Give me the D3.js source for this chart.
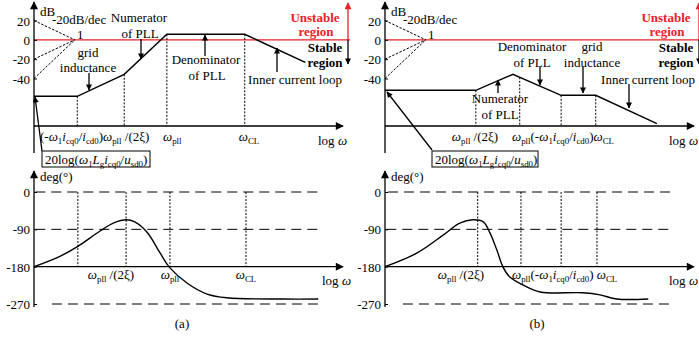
<!DOCTYPE html>
<html>
<head>
<meta charset="utf-8">
<script src="https://cdn.jsdelivr.net/npm/d3@7"></script>
<style>
body{margin:0;background:#fff}
svg{display:block}
text{font-family:"Liberation Serif","DejaVu Serif",serif;fill:#000}
</style>
</head>
<body>
<script>
// ---- data (x in decades of log w, magnitude in dB, phase in degrees) ----
var magTicks = [20, 0, -20, -40];
var phaseTicks = [0, -90, -180, -270];
var slopeStarts = [20, -20, -40];          // guide lines, all meeting at 0 dB
var slopeMeet = 0.66;

var magA = [[0,-58.4],[0.70,-58.4],[1.46,-35.7],[2.15,5.7],[3.41,5.7],[4.39,-23.3]];
var magB = [[0,-52.2],[1.47,-52.2],[2.07,-35.7],[2.85,-57.4],[3.41,-57.4],[4.40,-86.8]];
var breaksMagA = [0.70, 1.46, 2.15, 3.41];
var breaksMagB = [1.47, 2.18, 2.85, 3.41];

var phaseA = [[0,-180],[0.42,-155],[0.71,-131],[1.07,-94],[1.30,-74],[1.49,-67],[1.63,-72],
              [1.83,-97],[2.04,-147],[2.20,-183],[2.48,-220],[2.80,-246],[3.12,-255],[4.03,-258],[4.60,-258]];
var phaseB = [[0,-180],[0.52,-147],[0.94,-104],[1.21,-75],[1.42,-67],[1.59,-72],[1.70,-99],
              [1.81,-140],[1.91,-181],[2.02,-205],[2.23,-224],[2.51,-241],[3.20,-243],[3.48,-248],
              [3.75,-258],[4.26,-258]];
var breaksPhA = [0.71, 1.49, 2.20, 3.43];
var breaksPhB = [1.50, 2.20, 2.85, 3.43];

// rich text pieces: [text, style] ; i = italic, s = subscript
var W = [["\u03c9","i"]];
var lblWpll2xi = W.concat([["pll","s"],[" /(2\u03be)",""]]);
var lblWpll = W.concat([["pll","s"]]);
var lblWcl = W.concat([["CL","s"]]);
var lblRatio = [["(-",""],["\u03c9","i"],["1","s"],["i","i"],["cq0","s"],["/",""],["i","i"],["cd0","s"],[")",""]];
var lblLog = [["log ",""],["\u03c9","i"]];
var lblBox = [["20log(",""],["\u03c9","i"],["1","s"],["L","i"],["g","s"],["i","i"],["cq0","s"],["/",""],["u","i"],["sd0","s"],[")",""]];

var FONT = "Liberation Serif, DejaVu Serif, serif";
var width = 699, height = 339;
var svg = d3.select("body").append("svg").attr("width", width).attr("height", height)
            .attr("font-family", FONT);

var defs = svg.append("defs");
function marker(id, color, w, h) {
  defs.append("marker").attr("id", id).attr("viewBox", "0 0 10 10")
      .attr("refX", 9).attr("refY", 5).attr("markerUnits", "userSpaceOnUse")
      .attr("markerWidth", w).attr("markerHeight", h).attr("orient", "auto")
      .append("path").attr("d", "M0,0L10,5L0,10z").attr("fill", color);
}
marker("ax", "#000", 11, 8);
marker("ar", "#000", 10, 6);
marker("arRed", "#e8202a", 10, 7);

// scales shared by both panels (each panel is shifted by its own group)
var x = d3.scaleLinear().domain([0, 5]).range([0, 309]);
var yMag = d3.scaleLinear().domain([20, -40]).range([20.5, 78.5]);
var yPh = d3.scaleLinear().domain([0, -270]).range([192, 304]);
var magAxisY = 126;

function rich(g, parts, px, py, anchor, size) {
  size = size || 13;
  var t = g.append("text").attr("x", px).attr("y", py).attr("font-size", size)
           .attr("font-family", FONT).attr("text-anchor", anchor || "start");
  var shift = 0;
  parts.forEach(function(p) {
    var sub = p[1].indexOf("s") >= 0;
    var target = sub ? 3 : 0;
    var s = t.append("tspan").text(p[0]);
    if (target - shift !== 0) s.attr("dy", target - shift);
    shift = target;
    if (sub) s.attr("font-size", size * 0.68);
    if (p[1].indexOf("i") >= 0) s.attr("font-style", "italic");
  });
  return t;
}
function label(g, str, px, py, anchor, size) {
  return rich(g, [[str, ""]], px, py, anchor, size);
}
function arrow(g, x1, y1, x2, y2, id, color) {
  g.append("line").attr("x1", x1).attr("y1", y1).attr("x2", x2).attr("y2", y2)
   .attr("stroke", color || "#000").attr("stroke-width", 1.3)
   .attr("marker-end", "url(#" + (id || "ar") + ")");
}
function valAt(pts, v) {
  for (var i = 1; i < pts.length; i++) {
    if (v <= pts[i][0]) {
      var t = (v - pts[i-1][0]) / (pts[i][0] - pts[i-1][0]);
      return pts[i-1][1] + t * (pts[i][1] - pts[i-1][1]);
    }
  }
  return pts[pts.length-1][1];
}

var magLine = d3.line().x(function(d){ return x(d[0]); }).y(function(d){ return yMag(d[1]); });
var phLine = d3.line().x(function(d){ return x(d[0]); }).y(function(d){ return yPh(d[1]); })
               .curve(d3.curveCatmullRom);

function boldText(g, str, px, py, color) {
  g.append("text").attr("x", px).attr("y", py).attr("text-anchor", "middle")
   .attr("font-family", FONT).attr("font-size", 13).attr("font-weight", "bold")
   .style("fill", color).text(str);
}

function panel(ox, mag, breaksMag, phase, breaksPh, phDash, logPhX) {
  var g = svg.append("g").attr("transform", "translate(" + ox + ",0)");

  // ---------- magnitude ----------
  g.append("line").attr("x1", 0).attr("x2", 316).attr("y1", yMag(0)).attr("y2", yMag(0))
   .attr("stroke", "#e8202a").attr("stroke-width", 1.3);

  g.selectAll(".slope").data(slopeStarts).enter().append("line")
   .attr("x1", x(0)).attr("y1", function(d){ return yMag(d); })
   .attr("x2", x(slopeMeet)).attr("y2", yMag(0))
   .attr("stroke", "#000").attr("stroke-width", 1).attr("stroke-dasharray", "2.5,1.5");

  g.selectAll(".mbrk").data(breaksMag).enter().append("line")
   .attr("x1", function(d){ return x(d); }).attr("x2", function(d){ return x(d); })
   .attr("y1", function(d){ return yMag(valAt(mag, d)); }).attr("y2", magAxisY)
   .attr("stroke", "#000").attr("stroke-width", 1).attr("stroke-dasharray", "2,1.5");

  g.append("path").attr("d", magLine(mag)).attr("fill", "none")
   .attr("stroke", "#000").attr("stroke-width", 1.4);

  var ya = g.append("g").call(d3.axisLeft(yMag).tickValues(magTicks).tickSize(-3).tickPadding(4)
              .tickFormat(function(d){ return String(d); }));
  ya.attr("font-family", FONT);
  ya.select(".domain").remove();
  ya.selectAll("text").attr("font-size", 13).attr("font-family", FONT).attr("dy", "0.35em");
  ya.selectAll("line").attr("stroke-width", 1);

  arrow(g, 0, 153, 0, 2, "ax");
  arrow(g, 0, magAxisY, x(5), magAxisY, "ax");
  label(g, "dB", 6, 16);
  label(g, "-20dB/dec", 18, 24);
  label(g, "1", 43, 39);
  rich(g, lblLog, 284, 145);

  // stability arrows
  arrow(g, 314, yMag(0), 314, 3, "arRed", "#e8202a");
  arrow(g, 314, yMag(0), 314, 64, "ar");
  boldText(g, "Unstable", 281, 21.5, "#e8202a");
  boldText(g, "region", 282, 36, "#e8202a");
  boldText(g, "Stable", 291, 52, "#000");
  boldText(g, "region", 291, 66.5, "#000");

  // ---------- phase ----------
  g.selectAll(".pdash").data(phDash).enter().append("line")
   .attr("x1", function(d){ return x(d[1]); }).attr("x2", x(4.62))
   .attr("y1", function(d){ return yPh(d[0]); }).attr("y2", function(d){ return yPh(d[0]); })
   .attr("stroke", "#000").attr("stroke-width", 1).attr("stroke-dasharray", "10,6");

  g.selectAll(".pbrk").data(breaksPh).enter().append("line")
   .attr("x1", function(d){ return x(d); }).attr("x2", function(d){ return x(d); })
   .attr("y1", yPh(0)).attr("y2", yPh(-180))
   .attr("stroke", "#000").attr("stroke-width", 1).attr("stroke-dasharray", "2,1.5");

  g.append("path").attr("d", phLine(phase)).attr("fill", "none")
   .attr("stroke", "#000").attr("stroke-width", 1.4);

  var pa = g.append("g").call(d3.axisLeft(yPh).tickValues(phaseTicks).tickSize(-3).tickPadding(4)
              .tickFormat(function(d){ return String(d); }));
  pa.attr("font-family", FONT);
  pa.select(".domain").remove();
  pa.selectAll("text").attr("font-size", 13).attr("font-family", FONT).attr("dy", "0.35em");
  pa.selectAll("line").attr("stroke-width", 1);

  arrow(g, 0, 307, 0, 171, "ax");
  arrow(g, 0, yPh(-180), x(5), yPh(-180), "ax");
  label(g, "deg(\u00b0)", 6, 181);
  rich(g, lblLog, logPhX, 285);
  return g;
}

// (a)
var ga = panel(34, magA, breaksMagA, phaseA, breaksPhA, [[0, 0.02], [-90, 0.02], [-270, 0.29]], 288);
label(ga, "grid", 54, 57, "middle");
label(ga, "inductance", 54, 72, "middle");
arrow(ga, 55, 73, 55, 90);
label(ga, "Numerator", 105, 22, "middle");
label(ga, "of PLL", 106, 38, "middle");
arrow(ga, 107, 39, 107, 59);
label(ga, "Denominator", 172, 64, "middle");
label(ga, "of PLL", 173, 80, "middle");
arrow(ga, 171, 56, 171, 35);
label(ga, "Inner current loop", 261, 84, "middle");
arrow(ga, 243, 72, 243, 48);
rich(ga, lblRatio, 6, 141);
rich(ga, lblWpll2xi, 69, 141);
rich(ga, lblWpll, 129, 141);
rich(ga, lblWcl, 215, 141, "middle");
ga.append("rect").attr("x", 8).attr("y", 151).attr("width", 108).attr("height", 16)
  .attr("fill", "#fff").attr("stroke", "#000").attr("stroke-width", 1);
rich(ga, lblBox, 11, 164);
arrow(ga, 8, 151, 1, 97);
rich(ga, lblWpll2xi, 77, 279, "middle");
rich(ga, lblWpll, 136, 279, "middle");
rich(ga, lblWcl, 212, 279, "middle");
label(ga, "(a)", 148, 328, "middle");

// (b)
var gb = panel(385, magB, breaksMagB, phaseB, breaksPhB, [[0, 0.05], [-90, 0.02], [-270, 0.29]], 284);
label(gb, "Denominator", 147, 51, "middle");
label(gb, "of PLL", 147, 67, "middle");
arrow(gb, 155, 67, 155, 85);
label(gb, "grid", 207, 51, "middle");
label(gb, "inductance", 207, 67, "middle");
arrow(gb, 198, 67, 198, 93);
label(gb, "Inner current loop", 263, 84, "middle");
arrow(gb, 244, 84, 244, 108);
label(gb, "Numerator", 115, 103, "middle");
label(gb, "of PLL", 115, 119, "middle");
arrow(gb, 113, 93, 113, 80);
rich(gb, lblWpll2xi, 90, 141, "middle");
rich(gb, lblWpll.concat(lblRatio).concat(lblWcl), 127, 141);
gb.append("rect").attr("x", 47).attr("y", 151).attr("width", 106).attr("height", 16)
  .attr("fill", "#fff").attr("stroke", "#000").attr("stroke-width", 1);
rich(gb, lblBox, 50, 164);
arrow(gb, 47, 150, 2, 92);
rich(gb, lblWpll2xi, 76, 279, "middle");
rich(gb, lblWpll.concat(lblRatio).concat([[" ",""]]).concat(lblWcl), 127, 279);
label(gb, "(b)", 152, 328, "middle");
</script>
</body>
</html>
